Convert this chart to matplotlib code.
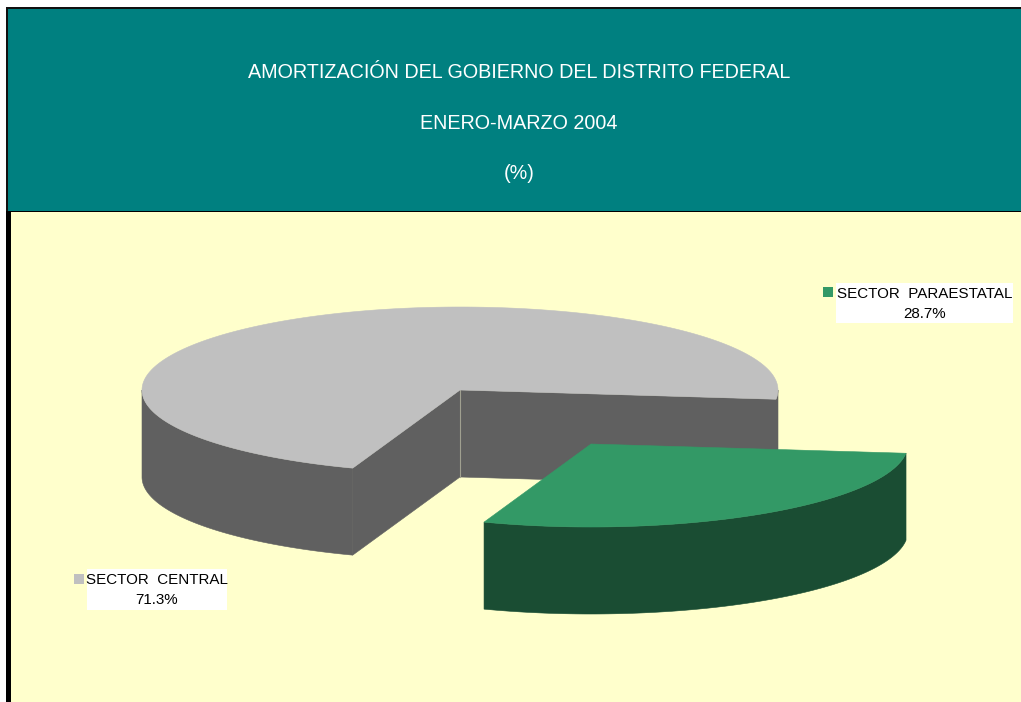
import numpy as np
import matplotlib
matplotlib.use("Agg")
import matplotlib.pyplot as plt
from matplotlib.patches import Polygon, Rectangle

plt.rcParams['font.family'] = ['Liberation Sans', 'DejaVu Sans']

title_lines = ["AMORTIZACIÓN DEL GOBIERNO DEL DISTRITO FEDERAL", "ENERO-MARZO 2004", "(%)"]
categories = ["SECTOR  CENTRAL", "SECTOR  PARAESTATAL"]
values = [71.3, 28.7]
value_labels = ["71.3%", "28.7%"]

TEAL, BG = "#008080", "#FFFFCC"
TOPS = ["#C0C0C0", "#339966"]
SIDES = ["#606060", "#1A4D33"]

fig = plt.figure(figsize=(10.21, 7.02), dpi=100, facecolor="white")
ax = fig.add_axes([0, 0, 1, 1])
ax.set_xlim(0, 1021)
ax.set_ylim(702, 0)
ax.axis("off")

# frame and panels
ax.add_patch(Rectangle((9, 211), 1012, 491, fc=BG, ec="none", zorder=0))
ax.add_patch(Rectangle((7, 9), 1014, 203, fc=TEAL, ec="none", zorder=1))
ax.add_patch(Rectangle((7, 211), 1014, 1, fc="black", ec="none", zorder=2))
ax.add_patch(Rectangle((6, 7), 1015, 2, fc="#111111", ec="none", zorder=2))
ax.add_patch(Rectangle((6, 7), 2, 205, fc="#111111", ec="none", zorder=2))
ax.add_patch(Rectangle((6, 211), 5, 491, fc="black", ec="none", zorder=2))

for line, y in zip(title_lines, [72.5, 123.5, 173.5]):
    ax.text(519, y, line, color="white", fontsize=14.2, ha="center", va="center", zorder=3)

# 3D pie geometry: gray runs counter-clockwise from just below the right edge
start = -6.4
span = [v / sum(values) * 360 for v in values]
gray_range = (start, start + span[0])
green_range = (start - span[1], start)
centers = [(460, 390), (591, 444)]
radii = [(318, 83), (317, 83)]
depth = 87


def arc(c, r, a0, a1, n=240):
    t = np.radians(np.linspace(a0, a1, n))
    return np.column_stack([c[0] + r[0] * np.cos(t), c[1] - r[1] * np.sin(t)])


def outer_wall(c, r, a0, a1, color, z):
    top = arc(c, r, a0, a1)
    bottom = top + [0, depth]
    ax.add_patch(Polygon(np.vstack([top, bottom[::-1]]), fc=color, ec=color, lw=0.4, zorder=z))


def cut_wall(c, r, a, color, z):
    t = np.radians(a)
    p = np.array([c[0] + r[0] * np.cos(t), c[1] - r[1] * np.sin(t)])
    pts = [c, p, p + [0, depth], (c[0], c[1] + depth)]
    ax.add_patch(Polygon(pts, fc=color, ec=color, lw=0.4, zorder=z))


# gray slice: its front rim is the part of the lower half outside the gap
c, r = centers[0], radii[0]
outer_wall(c, r, -180, gray_range[1] - 360, SIDES[0], 4)
outer_wall(c, r, gray_range[0], 0, SIDES[0], 4)
cut_wall(c, r, gray_range[0], SIDES[0], 5)
cut_wall(c, r, gray_range[1], SIDES[0], 5)
ax.plot([c[0], c[0]], [c[1], c[1] + depth], color="#A0A090", lw=0.8, zorder=6)
ax.add_patch(Polygon(np.vstack([[c], arc(c, r, *gray_range)]), fc=TOPS[0], ec=TOPS[0], lw=0.4, zorder=7))

# green slice
c, r = centers[1], radii[1]
outer_wall(c, r, *green_range, SIDES[1], 8)
ax.add_patch(Polygon(np.vstack([[c], arc(c, r, *green_range)]), fc=TOPS[1], ec=TOPS[1], lw=0.4, zorder=9))


# labels
def label(box, swatch, color, name, val):
    ax.add_patch(Rectangle((box[0], box[1]), box[2], box[3], fc="white", ec="none", zorder=10))
    ax.add_patch(Rectangle(swatch, 10, 10, fc=color, ec="none", zorder=10))
    xc = box[0] + box[2] / 2
    ax.text(xc, box[1] + 10.5, name, color="black", fontsize=10.9, ha="center", va="center", zorder=11)
    ax.text(xc, box[1] + 31, val, color="black", fontsize=10.9, ha="center", va="center", zorder=11)


label((87, 569, 140, 41), (74, 574), TOPS[0], categories[0], value_labels[0])
label((836, 283, 177, 40), (823, 287), TOPS[1], categories[1], value_labels[1])

fig.savefig("out.png", dpi=100, facecolor="white")
